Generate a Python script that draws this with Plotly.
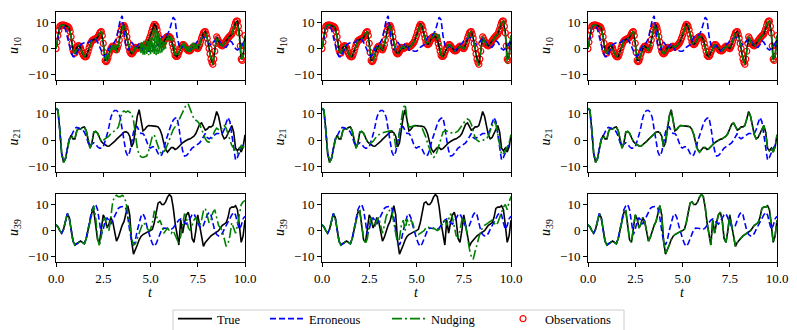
import plotly.graph_objects as go

FONT = "Liberation Serif"
W, H = 797, 330

# ---------------- data ----------------
t = [round(0.1 * i, 1) for i in range(101)]
t_fine = [round(0.05 * i, 2) for i in range(201)]

x_ticks = [0, 2.5, 5, 7.5, 10]
x_ticklabels = ["0.0", "2.5", "5.0", "7.5", "10.0"]
y_ticks = [-10, 0, 10]
y_ticklabels = ["\u221210", "0", "10"]
var_labels = ["10", "21", "39"]
series_names = ["True", "Erroneous", "Nudging", "Observations"]

true_u10 = [0, 5, 8.5, 9, 9, 8.7, 8.5, 7.8, 4.5, -0.5,
            -1.8, 0.5, 1.2, 0.3, -1.8, -3, -3, -1, 1.5, 3,
            3.5, 3.8, 4.3, 5.8, 6.5, 2, -4.5, -4.5, -2, 0,
            1, 0.3, -0.5, 1.5, 5.5, 8.3, 8.8, 6.5, 2.5, -1,
            -2, -1.2, 0.5, 0, 0.5, 1, 0.5, 1, 1.8, 3,
            5, 7.5, 9.3, 8.5, 5.5, 2.5, 1.5, 2.5, 4, 4.6,
            4.6, 3.5, 0.5, -2.5, -3, -1.5, 0.5, 1.5, 1.2, 0,
            -0.8, -0.8, 0.2, 1, 0.5, 0, 1.5, 4, 6, 6.5,
            4, 0, -4, -6, -1, 4.5, 3, 1.5, 1, 2,
            3, 4, 4.8, 5.5, 7.5, 10, 10.5, 6, -4, -3,
            5]

# observations of u10 (every 0.05 time units)
obs_u10 = [0, 2.5, 5, 7, 8.5, 8.8, 9, 9, 9, 8.9,
           8.7, 8.6, 8.5, 8.2, 7.8, 6.5, 4.5, 2, -0.5, -1.5,
           -1.8, -0.8, 0.5, 1, 1.2, 0.9, 0.3, -0.8, -1.8, -2.5,
           -3, -3.2, -3, -2.2, -1, 0.3, 1.5, 2.3, 3, 3.3,
           3.5, 3.6, 3.8, 4, 4.3, 5, 5.8, 6.3, 6.5, 5,
           2, -1.5, -4.5, -5, -4.5, -3.5, -2, -1, 0, 0.6,
           1, 0.7, 0.3, -0.2, -0.5, 0.3, 1.5, 3.3, 5.5, 7,
           8.3, 8.8, 8.8, 8, 6.5, 4.5, 2.5, 0.5, -1, -1.8,
           -2, -1.8, -1.2, -0.2, 0.5, 0.3, 0, 0.2, 0.5, 0.8,
           1, 0.7, 0.5, 0.7, 1, 1.4, 1.8, 2.3, 3, 4,
           5, 6.3, 7.5, 8.5, 9.3, 9.1, 8.5, 7.2, 5.5, 4,
           2.5, 1.8, 1.5, 1.8, 2.5, 3.3, 4, 4.4, 4.6, 4.7,
           4.6, 4.2, 3.5, 2, 0.5, -1, -2.5, -3, -3, -2.5,
           -1.5, -0.5, 0.5, 1.2, 1.5, 1.5, 1.2, 0.6, 0, -0.5,
           -0.8, -0.9, -0.8, -0.3, 0.2, 0.6, 1, 0.8, 0.5, 0.2,
           0, 0.6, 1.5, 2.7, 4, 5, 6, 6.4, 6.5, 5.5,
           4, 2, 0, -2, -4, -5.2, -6, -4, -1, 2,
           4.5, 3.8, 3, 2.2, 1.5, 1.2, 1, 1.5, 2, 2.5,
           3, 3.5, 4, 4.4, 4.8, 5.2, 5.5, 6.5, 7.5, 8.8,
           10, 10.5, 10.5, 8.5, 6, 1, -4, -4.5, -3, 1,
           5]

err_u10 = [0, 5, 8.3, 8.8, 8.5, 7.5, 5, 1.5, -1.5, -3,
           -3.2, -1.5, 0.5, 1.5, 2, 2.2, 2, 2.2, 2.8, 3.5,
           3.8, 3.5, 2.5, 1, -1, -2.5, -3, -2, 0, 1,
           1.5, 2.5, 4, 7, 11, 12.5, 7, 0.5, -0.5, 0.5,
           2.5, 1.5, 0, 1, 2, 1, -0.5, -1, -0.8, -1,
           -1, -0.5, 0.5, 1, 1.5, 3, 4.5, 5, 5, 5.5,
           7, 9.5, 12, 11, 5, 1.5, 0, 0.8, 1, 0,
           -0.8, -0.5, 0.5, 1.5, 2, 3, 3.5, 4, 4.5, 4,
           3, 2, 1.5, 2, 3, 4, 3.5, 2, 1, 0.5,
           0.5, 1.5, 3, 2.5, 1, 0, -0.5, 0, 0.5, 2,
           3.5]

nud_c1_u10 = [0, 2.5, 5, 7, 8.5, 8.8, 9, 9, 9, 8.9,
              8.7, 8.6, 8.5, 8.2, 7.8, 6.5, 4.5, 2, -0.5, -1.5,
              -1.8, -0.8, 0.5, 1, 1.2, 0.9, 0.3, -0.8, -1.8, -2.5,
              -3, -3.2, -3, -2.2, -1, 0.3, 1.5, 2.3, 3, 3.3,
              3.5, 3.6, 3.8, 4, 4.3, 5, 5.8, 6.3, 6.5, 5,
              2, -1, -4.5, -2.5, -5.5, -2, -4, 0, -1.5, 1.5,
              -0.5, 1.5, -1, 1.5, -1.5, 1.5, 0.5, 3.5, 4.5, 7,
              7.5, 8.5, 8.5, 8.5, 6.5, 4.5, 2.5, 1, -1, -1.8,
              -2, -1.8, -1.2, -0.2, 0.5, 0.3, 0, 0.2, 0.5, 2.5,
              -2, 2.5, -2.5, 3, -2.5, 3, -2, 3.5, -2.5, 4,
              -2.5, 5.5, -2, 7, -2, 8, -2.5, 7.5, -2, 6,
              -2, 4, -1.5, 3, -1, 2.5, 0, 4, 3, 5,
              3.5, 5, 3, 4, 0.5, 1, -2.5, -1.5, -3, -2.5,
              -1.5, -1, 0.5, 2, 0.5, 2.5, 0, 2, -1, 1,
              -1.5, 1, -1.5, 1.5, -0.5, 2.5, 0, 2, -0.5, 1.5,
              -0.5, 2, 1, 3, 4, 5, 6, 6.4, 6.5, 5.5,
              4, 2, 0, -2, -4, -3, -6, -2.5, -1, 2,
              4.5, 3.8, 3, 2.2, 1.5, 1.2, 1, 1.5, 2, 2.5,
              3, 3.5, 4, 4.4, 4.8, 5.2, 5.5, 6.5, 7.5, 8.8,
              10, 10, 9.5, 7, 4, 0, -4.5, -2, -4, 1,
              5]

nud_c2_u10 = [0, 5, 8.5, 9, 9, 8.7, 8.5, 7.8, 4.5, -0.5,
              -1.8, 0.5, 1.2, 0.3, -1.8, -3, -3, -1, 1.5, 3,
              3.5, 3.8, 4.3, 5.8, 6.5, 1, -3.5, -5, -2.5, 0.5,
              -0.5, 1.5, -1, 1.5, 5, 8, 8.5, 6.5, 2.5, -1,
              -2, -1, 0.5, 1, 0, 1.5, 0, 1, 1.8, 3,
              5, 7.5, 9, 8.5, 5.5, 2.5, 1.5, 2.5, 4, 4.6,
              6, 3, 5.5, -2.5, -3, -1.5, 0.5, 1.5, 1.2, 0,
              -0.8, -0.8, 0.2, 1, 0.5, 0, 1.5, 4, 6, 6.5,
              4, 0, -4.5, -6.5, -1, 4.5, 3, 1.5, 1, 2,
              3, 4, 4.8, 5.5, 7.5, 10, 10.5, 6, -6, -3,
              5]

nud_c3_u10 = [0, 5, 8.5, 9, 9, 8.7, 8.5, 7.8, 4.5, -0.5,
              -1.8, 0.5, 1.2, 0.3, -1.8, -3, -3, -1, 1.5, 3,
              3.5, 3.8, 4.3, 5.8, 6.5, 2, -4.5, -4.5, -2, 0,
              1, 0.3, -0.5, 1.5, 5.5, 8.3, 8.8, 6.5, 2.5, -1,
              -2, -1.2, 0.5, 0, 0.5, 1, 0.5, 1, 1.8, 3,
              5, 7.5, 9.3, 8.5, 5.5, 2.5, 1.5, 2.5, 4, 4.6,
              4.6, 3.5, 0.5, -2.5, -3, -1.5, 0.5, 1.5, 1.2, 0,
              -0.8, -0.8, 0.2, 1, 0.5, 0, 1.5, 4, 6, 6.5,
              4, 0, -4, -6, -1, 4.5, 3, 1.5, 1, 2,
              3, 4, 4.8, 5.5, 7.5, 10, 10.5, 6, -5.5, -3,
              5]

true_u21 = [12, 11.5, 4, -5, -8.4, -7, -3.5, 0, 1.8, 0.5,
            0.5, 3.5, 4.5, 4.2, 4.8, 5, 3.5, 0.5, -3, -1,
            3, 3.3, 2.6, 1, -0.5, -1.2, -1.8, -2.2, -2.3, -1.8,
            -1.2, -0.5, 0.3, 1, 1.8, 2.5, 3, 3.2, 2.8, 1.5,
            -2.5, -1, 4, 9, 11.5, 6.5, 3.5, 4, 5, 5.5,
            5.5, 5.4, 5.3, 5.2, 5, 4, 2, -1, -3.5, -4.5,
            -3.5, -2.8, -2.8, -3.5, -3.2, -2.5, -1.5, -1, -0.5, 0,
            0.3, 0.5, 1, 1.5, 2.5, 4, 6, 6.5, 5, 3.8,
            4.2, 5, 5, 5.5, 8, 10.8, 9, 5, 2, 0.5,
            1, 2.5, 4, 5.5, 3, -3, -4, -3, -4.5, -2.5,
            2]

err_u21 = [12, 11, 3.5, -5, -8, -7, -3, 0.5, 1.5, 3,
           4.5, 4.8, 4.5, 4.5, 4, 3, 1.5, -1, -2.5, -1.5,
           -1, -1.5, -2.5, -3, -3, -2.5, -0.5, 2, 5, 8.5,
           10.5, 11.2, 11.2, 10.5, 8.5, 4, -1, -4.5, -6, -4.5,
           -1, 3, 5, 5, 3.5, 2.5, 2.5, 1.5, -0.5, -2.5,
           -3, -2.5, -2.5, -3.5, -5, -6, -5.5, -3.5, -0.5, 2,
           4, 6, 7.5, 8.3, 8.5, 5, 0, -4, -6, -5.8,
           -5, -4, -3, -2.5, -2, -1.5, -1, 0, 1.5, 2.5,
           1, 0.5, 1, 1.5, 2, 2.5, 2.5, 2.3, 2.5, 4,
           6.5, 8.5, 7, 2, -4, -7.5, -6.5, -4.5, -3, -2,
           -1]

nud_c1_u21 = [12, 11.5, 4, -5, -8.4, -7, -3.5, 0, 1.8, 0.5,
              0.5, 3.5, 4.5, 4.2, 4.8, 5, 3.5, 0.5, -3, -1,
              3, 3.3, 2.6, 1, -0.5, 0, 0.5, 1, 1.5, 2.5,
              3, 3.5, 4, 5, 8, 10.5, 11, 10.5, 11, 10.5,
              10, 7.5, 2, -3, -5.5, -6.3, -6.5, -6.3, -6, -4,
              -1.5, 1.5, 2, 0, -2, -4.5, -5, -4.5, -3.5, -1.5,
              0.5, 2.5, 4, 5, 6, 7.5, 9, 10.5, 12, 13.5,
              13.5, 11.5, 9.5, 8, 7.5, 7, 6, 4, 2, 0.5,
              -0.5, -0.8, 0, 2, 3.5, 4.5, 4, 3.5, 4.5, 5.5,
              4.5, 2.5, 0, -2, -3, -4, -5, -3.5, -2, -3,
              -1]

nud_c2_u21 = [12, 11.5, 4, -5, -8.4, -7, -3.5, 0, 1.8, 0.5,
              0.5, 3.5, 4.5, 4.2, 4.8, 5, 3.5, 0.5, -3, -1,
              3, 3.3, 2.6, 1, -0.5, -1.2, -1, -0.5, 0.5, 1.5,
              2, 2.5, 2.8, 3, 3.2, 3.3, 3.5, 3.5, 2.5, -2.5,
              -2, 3, 8, 12, 13.5, 8, 5, 5, 5.3, 5.5,
              5.5, 5.5, 5.3, 4.5, 3, 1, -1.5, -4, -5.5, -6.5,
              -6, -4, -1.5, 1, 3, 3.5, 3.5, 3, 2.8, 2.5,
              2.5, 3, 3.5, 4.5, 5.5, 6.5, 7.5, 8, 7.5, 6,
              3.5, 1, 0, -0.5, -0.5, 0, 0.3, 0.5, 1.5, 3.5,
              5.5, 7, 6, 2, -3, -5.5, -5, -4, -2.5, -1,
              2]

nud_c3_u21 = [12, 11.5, 4, -5, -8.4, -7, -3.5, 0, 1.8, 0.5,
              0.5, 3.5, 4.5, 4.2, 4.8, 5, 3.5, 0.5, -3, -1,
              3, 3.3, 2.6, 1, -0.5, -1.2, -1.8, -2.2, -2.3, -1.8,
              -1.2, -0.5, 0.3, 1, 1.8, 2.5, 3, 3.2, 2.8, 1.5,
              -2.5, -1, 4, 9, 11.5, 6.5, 3.5, 4, 5, 5.5,
              5.5, 5.4, 5.3, 5.2, 5, 4, 2, -1, -3.5, -4.5,
              -3.5, -2.8, -2.8, -3.5, -3.2, -2.5, -1.5, -1, -0.5, 0,
              0.3, 0.5, 1, 1.5, 2.5, 4, 6, 6.5, 5, 3.8,
              4.2, 5, 5, 5.5, 8, 10.8, 9, 5, 2, 0.5,
              1, 2.5, 4, 5.5, 3, -3, -4, -3, -4.5, -2.5,
              2]

true_u39 = [2.2, 1.5, 0, -1, 0.5, 4, 6.5, 5, 0, -4,
            -5.5, -5, -4.2, -4, -4.5, -5, -3, 0, 3.5, 7,
            7.5, 2, -3.5, -4.5, 1, 6, 4.5, 1, 2.5, 5,
            3.5, -1, -4, -2.5, 0, 2, 3.5, 6.5, 9.5, 6,
            -4, -9, -7.5, -5.5, -3.5, -2.2, -1.5, -1, -0.5, -0.3,
            0, 0.5, 3, 7, 10.5, 11, 10, 10, 11, 12.8,
            13.8, 13, 9, 3, -2, -5.5, 4, -1, 3, 6,
            7, 4, -3, -4.5, 0, 6, 2, -3, -6, -4.5,
            -3.5, -2.8, -2, -1.5, -1, -0.5, 0, 1, 2, 2.5,
            3, 5, 8.5, 9, 9, 9.5, 8, 2, -4.5, -2,
            4]

err_u39 = [2.2, 1.5, 0, -1, 0.5, 4, 6.5, 5, 0, -4,
           -5.5, -5, -4.2, -4, -4.5, -5, -3, 1, 5, 8,
           9.5, 10, 8, 3, -1.5, 0.5, 3.5, 5, 3.5, 2.5,
           4, 5.5, 7, 8.5, 9, 9.3, 9.3, 8.5, 5, 0,
           -4, -5.5, -3.5, 0, 3, 5.5, 6.5, 5, 2, -1,
           -3, -5, -6, -5, -3, -1, 0.5, 1, 1, 0.8,
           0.5, 0.5, 1, 2, 3, 4, 4.5, 4, 3, 2.5,
           3.5, 5, 6, 6.5, 5, 3, 1.5, 1, 2, 4,
           6, 7, 6, 3, 0, -1.5, -2, -2, -1, 0.5,
           2, 3.5, 4.5, 6, 7, 6, 3, 0.5, 2, 4.5,
           5.5]

nud_c1_u39 = [2.2, 1.5, 0, -1, 0.5, 4, 6.5, 5, 0, -4,
              -5.5, -5, -4.2, -4, -4.5, -5, -3, 0, 3.5, 7,
              9.5, 5, -3, -6, -2, 4, 5, 1, 0, 5,
              11, 13, 13.5, 13, 13, 13.5, 13, 11, 7, 2,
              -3, -5.5, -5, -3, -0.5, 1.5, 3, 2.5, 1, 0,
              0.5, 3, 7.5, 6.5, 3, 4, 2, -1, 0, 1,
              0, -1, 0, -1.5, -3, -5, -2, 3, 6.5, 5,
              1, 0, 2, 4, 5, 3.5, 2, 4, 7.5, 8.5,
              6, 3, 4, 7, 8, 5, 2, 1, 0, -3,
              -6, -5, -2, 3, 1, -1, 2, 7, 10, 11,
              11.5]

nud_c2_u39 = [2.2, 1.5, 0, -1, 0.5, 4, 6.5, 5, 0, -4,
              -5.5, -5, -4.2, -4, -4.5, -5, -3, 0, 3.5, 7,
              7.5, 2, -3, -5, -3, 2, 5, 2, 1.5, 4,
              5, 2, -1, 2, 5.5, 7, 8, 7, 3, -2,
              -5, -3, 2, 4, 0, 4.5, 2, 4, 3, 0,
              -1, -1.5, -1, -0.5, 0, 1, 1.5, 1, 0.5, 1,
              0.5, 0, 0.5, 1.5, 3, 4, 2, 4, 6.5, 5,
              1, -2, -2.5, 0, 4, 5, 2, -3, -7, -10,
              -11, -8, -5, -2, 0, 1, 2, 2.5, 3, 3.5,
              4, 3, 2, 3, 5, 7, 9, 10, 8, 11,
              13]

nud_c3_u39 = [2.2, 1.5, 0, -1, 0.5, 4, 6.5, 5, 0, -4,
              -5.5, -5, -4.2, -4, -4.5, -5, -3, 0, 3.5, 7,
              7.5, 2, -3.5, -4.5, 1, 6, 4.5, 1, 2.5, 5,
              3.5, -1, -4, -2.5, 0, 2, 3.5, 6.5, 9.5, 6,
              -4, -9, -7.5, -5.5, -3.5, -2.2, -1.5, -1, -0.5, -0.3,
              0, 0.5, 3, 7, 10.5, 11, 10, 10, 11, 12.8,
              13.8, 13, 9, 3, -2, -5.5, 4, -1, 3, 6,
              7, 4, -3, -4.5, 0, 6, 2, -3, -6, -4.5,
              -3.5, -2.8, -2, -1.5, -1, -0.5, 0, 1, 2, 2.5,
              3, 5, 8.5, 9, 9, 9.5, 8, 2, -4.5, -2,
              4]

true_rows = [true_u10, true_u21, true_u39]
err_rows = [err_u10, err_u21, err_u39]
nud_grid = [[nud_c1_u10, nud_c2_u10, nud_c3_u10],
            [nud_c1_u21, nud_c2_u21, nud_c3_u21],
            [nud_c1_u39, nud_c2_u39, nud_c3_u39]]

# ---------------- layout geometry (pixels) ----------------
col_px = [(56, 245), (322, 511), (588, 777)]
row_px = [(12, 80), (103, 172), (194, 262)]
legend_x_px = [173, 265, 387, 501]   # left edge of each legend entry
legend_top_px = 304
frame_px = (173, 624, 310)

BLACK = "#000000"
BLUE = "#0000ff"
GREEN = "#008000"
RED = "#ff0000"
LW = 1.6
legend_ids = ["legend", "legend2", "legend3", "legend4"]

fig = go.Figure()
layout = dict(
    width=W, height=H,
    margin=dict(l=0, r=0, t=0, b=0, autoexpand=False),
    paper_bgcolor="white", plot_bgcolor="white",
    font=dict(family=FONT, size=12, color="black"),
    showlegend=True,
)
for i, lid in enumerate(legend_ids):
    layout[lid] = dict(x=legend_x_px[i] / W, xanchor="left",
                       y=(H - legend_top_px) / H, yanchor="top",
                       bgcolor="rgba(0,0,0,0)", borderwidth=0,
                       font=dict(family=FONT, size=12.5, color="black"),
                       itemwidth=34, orientation="h")

annotations = []
for r in range(3):
    for c in range(3):
        idx = r * 3 + c + 1
        xa = "x" if idx == 1 else f"x{idx}"
        ya = "y" if idx == 1 else f"y{idx}"
        first = (r == 0 and c == 0)
        if r == 0:
            fig.add_trace(go.Scatter(
                x=t_fine, y=obs_u10, mode="markers", name=series_names[3],
                marker=dict(symbol="circle-open", size=6, color=RED,
                            line=dict(width=1.2, color=RED)),
                showlegend=first, legend=legend_ids[3], xaxis=xa, yaxis=ya))
        fig.add_trace(go.Scatter(
            x=t, y=true_rows[r], mode="lines", name=series_names[0],
            line=dict(color=BLACK, width=LW), showlegend=first,
            legend=legend_ids[0], xaxis=xa, yaxis=ya))
        fig.add_trace(go.Scatter(
            x=t, y=err_rows[r], mode="lines", name=series_names[1],
            line=dict(color=BLUE, width=LW, dash="6px,3px"), showlegend=first,
            legend=legend_ids[1], xaxis=xa, yaxis=ya))
        nx = t_fine if first else t
        fig.add_trace(go.Scatter(
            x=nx, y=nud_grid[r][c], mode="lines", name=series_names[2],
            line=dict(color=GREEN, width=LW, dash="10px,3px,2px,3px"),
            showlegend=first, legend=legend_ids[2], xaxis=xa, yaxis=ya))

        x0, x1 = col_px[c]
        y0, y1 = row_px[r]
        axkey = "xaxis" if idx == 1 else f"xaxis{idx}"
        aykey = "yaxis" if idx == 1 else f"yaxis{idx}"
        layout[axkey] = dict(
            domain=[x0 / W, x1 / W], range=[0, 10], anchor=ya,
            tickvals=x_ticks, ticktext=x_ticklabels, showticklabels=(r == 2),
            ticks="outside", ticklen=4, tickwidth=1, tickcolor="black",
            showline=True, linecolor="black", linewidth=1, mirror=True,
            showgrid=False, zeroline=False, automargin=False,
            tickfont=dict(family=FONT, size=13, color="black"))
        layout[aykey] = dict(
            domain=[(H - y1) / H, (H - y0) / H], range=[-12, 14], anchor=xa,
            tickvals=y_ticks, ticktext=y_ticklabels,
            ticks="outside", ticklen=4, tickwidth=1, tickcolor="black",
            showline=True, linecolor="black", linewidth=1, mirror=True,
            showgrid=False, zeroline=False, automargin=False,
            tickfont=dict(family=FONT, size=13, color="black"))
        annotations.append(dict(
            x=(x0 - 42) / W, y=1 - ((y0 + y1) / 2) / H, xref="paper", yref="paper",
            text=f"<i>u</i><sub>{var_labels[r]}</sub>", textangle=-90,
            showarrow=False, xanchor="center", yanchor="middle",
            font=dict(family=FONT, size=14, color="black")))
        if r == 2:
            annotations.append(dict(
                x=((x0 + x1) / 2) / W, y=1 - 292 / H, xref="paper", yref="paper",
                text="<i>t</i>", showarrow=False, xanchor="center", yanchor="middle",
                font=dict(family=FONT, size=14, color="black")))

layout["annotations"] = annotations
layout["shapes"] = [dict(type="rect", xref="paper", yref="paper",
                         x0=frame_px[0] / W, x1=frame_px[1] / W,
                         y0=-0.1, y1=(H - frame_px[2]) / H,
                         line=dict(color="#cccccc", width=1),
                         fillcolor="white", layer="below")]
fig.update_layout(**layout)
fig.write_html("out.html", config={"displayModeBar": False},
               post_script="document.body.style.margin='0';document.body.style.padding='0';")
